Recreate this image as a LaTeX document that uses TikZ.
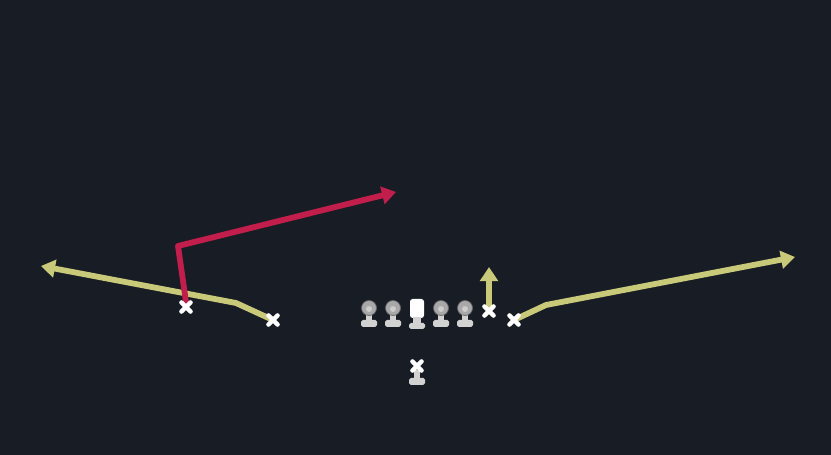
\documentclass[tikz,border=0pt]{standalone}
\usetikzlibrary{calc,arrows.meta}
\definecolor{field}{HTML}{181C24}
\definecolor{routeY}{HTML}{C9C97A}
\definecolor{routeR}{HTML}{C21E4C}
\definecolor{helmet}{HTML}{A8A8A8}
\definecolor{padgray}{HTML}{D2D2D2}
\tikzset{
  route/.style={line width=3.3pt, line cap=round, line join=round},
  tip/.style={-{Triangle[length=8pt,width=10pt]}},
  cross/.style={white, line width=2.6pt, line cap=round}
}
% one offensive lineman: helmet, neck and base
\def\blocker(#1){
  \fill[padgray] ($(#1)+(-3,5)$) rectangle ($(#1)+(3,13)$);
  \fill[padgray, rounded corners=1pt] ($(#1)+(-8,12)$) rectangle ($(#1)+(8,19)$);
  \draw[black!60, fill=helmet] (#1) circle (7.5);
  \fill[black!20] ($(#1)+(0,1)$) circle (3);
}
% receiver mark: an X
\def\receiver(#1){
  \draw[cross] ($(#1)+(-4.5,-4.5)$) -- ($(#1)+(4.5,4.5)$);
  \draw[cross] ($(#1)+(-4.5,4.5)$) -- ($(#1)+(4.5,-4.5)$);
}

\begin{document}
\begin{tikzpicture}[x=0.02cm, y=-0.02cm]
	%%%%% FIELD %%%%%
	\fill[field] (0, 0) rectangle (831, 455);
	
	%%%%% PLAYERS %%%%%
	\coordinate (LT) at (369, 308);
	\coordinate (LG) at (393, 308);
	\coordinate (RG) at (441, 308);
	\coordinate (RT) at (465, 308);
	\coordinate (C) at (417, 309);
	\coordinate (QB) at (417, 366);
	\coordinate (WRl) at (186, 307);
	\coordinate (SLl) at (273, 320);
	\coordinate (TE) at (489, 311);
	\coordinate (WRr) at (514, 320);
	
	%%%%% ROUTES %%%%%
	\coordinate (bendA) at (236, 303);
	\coordinate (endA) at (41, 266);
	\draw[route, routeY, tip] (SLl) -- (bendA) -- (endA);
	
	\coordinate (cornerB) at (178, 246);
	\coordinate (endB) at (396, 192);
	\draw[route, routeR, tip] ($(WRl)+(0,-5)$) -- (cornerB) -- (endB);
	
	\coordinate (endC) at (489, 267);
	\draw[route, routeY, tip] ($(TE)+(0,-5)$) -- (endC);
	
	\coordinate (bendD) at (546, 305);
	\coordinate (endD) at (795, 257);
	\draw[route, routeY, tip] (WRr) -- (bendD) -- (endD);
	
	%%%%% LINE %%%%%
	\blocker(LT)
	\blocker(LG)
	\blocker(RG)
	\blocker(RT)
	\fill[white, rounded corners=1.5pt] ($(C)+(-7,-10)$) rectangle ($(C)+(7,9)$);
	\fill[padgray] ($(C)+(-4,8)$) rectangle ($(C)+(4,15)$);
	\fill[padgray, rounded corners=1pt] ($(C)+(-8,14)$) rectangle ($(C)+(8,20)$);
	
	%%%%% BACKFIELD %%%%%
	\fill[padgray] ($(QB)+(-3,4)$) rectangle ($(QB)+(3,13)$);
	\fill[padgray, rounded corners=1pt] ($(QB)+(-8,12)$) rectangle ($(QB)+(8,19)$);
	\receiver(QB)
	\receiver(WRl)
	\receiver(SLl)
	\receiver(TE)
	\receiver(WRr)
\end{tikzpicture}
\end{document}
